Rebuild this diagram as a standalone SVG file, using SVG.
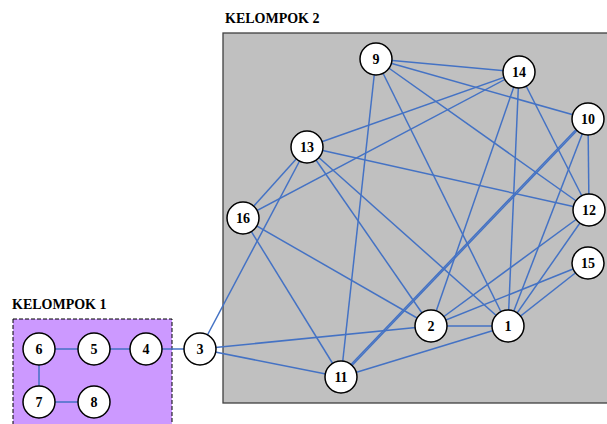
<svg xmlns="http://www.w3.org/2000/svg" width="607" height="424" viewBox="0 0 607 424">
<style>
.e{stroke:#4472c4;stroke-width:1.5;fill:none}
.n circle{fill:#fff;stroke:#000;stroke-width:1.5}
.n text{font-family:"Liberation Serif",serif;font-weight:bold;font-size:14px;text-anchor:middle;fill:#000}
.lbl{font-family:"Liberation Serif",serif;font-weight:bold;font-size:14px;fill:#000}
</style>
<rect width="607" height="424" fill="#fff"/>
<g id="kelompok2">
<rect x="223" y="33" width="390" height="370" fill="#c0c0c0" stroke="#404040" stroke-width="1.3"/>
<text class="lbl" x="225" y="23">KELOMPOK 2</text>
</g>
<g id="kelompok1">
<rect x="13" y="319" width="159" height="110" fill="#cc99ff" stroke="#000" stroke-width="1" stroke-dasharray="4,2"/>
<text class="lbl" x="12" y="309">KELOMPOK 1</text>
</g>
<g id="connectors">
<line class="e" x1="39" y1="349" x2="94" y2="349"/>
<line class="e" x1="94" y1="349" x2="146" y2="349"/>
<line class="e" x1="146" y1="349" x2="200" y2="349"/>
<line class="e" x1="39" y1="349" x2="39" y2="402"/>
<line class="e" x1="39" y1="402" x2="94" y2="402"/>
<line class="e" x1="376" y1="59" x2="519" y2="72"/>
<line class="e" x1="376" y1="59" x2="588" y2="119"/>
<line class="e" x1="376" y1="59" x2="589" y2="210"/>
<line class="e" x1="376" y1="59" x2="508" y2="326"/>
<line class="e" x1="376" y1="59" x2="341" y2="377"/>
<line class="e" x1="519" y1="72" x2="307" y2="147"/>
<line class="e" x1="519" y1="72" x2="243" y2="218"/>
<line class="e" x1="519" y1="72" x2="431" y2="326"/>
<line class="e" x1="519" y1="72" x2="508" y2="326"/>
<line class="e" x1="519" y1="72" x2="589" y2="210"/>
<line class="e" x1="588" y1="119" x2="589" y2="210"/>
<line class="e" x1="588" y1="119" x2="341" y2="377"/>
<line class="e" x1="587" y1="118" x2="340" y2="376"/>
<line class="e" x1="588" y1="119" x2="508" y2="326"/>
<line class="e" x1="307" y1="147" x2="589" y2="210"/>
<line class="e" x1="307" y1="147" x2="243" y2="218"/>
<line class="e" x1="307" y1="147" x2="200" y2="349"/>
<line class="e" x1="307" y1="147" x2="431" y2="326"/>
<line class="e" x1="307" y1="147" x2="508" y2="326"/>
<line class="e" x1="243" y1="218" x2="431" y2="326"/>
<line class="e" x1="243" y1="218" x2="341" y2="377"/>
<line class="e" x1="200" y1="349" x2="431" y2="326"/>
<line class="e" x1="200" y1="349" x2="341" y2="377"/>
<line class="e" x1="341" y1="377" x2="508" y2="326"/>
<line class="e" x1="431" y1="326" x2="508" y2="326"/>
<line class="e" x1="431" y1="326" x2="589" y2="210"/>
<line class="e" x1="431" y1="326" x2="588" y2="263"/>
<line class="e" x1="508" y1="326" x2="589" y2="210"/>
<line class="e" x1="508" y1="326" x2="588" y2="263"/>
</g>
<g id="n9" class="n"><circle cx="376" cy="59" r="16"/><text x="376" y="64">9</text></g>
<g id="n14" class="n"><circle cx="519" cy="72" r="16"/><text x="519" y="77">14</text></g>
<g id="n10" class="n"><circle cx="588" cy="119" r="16"/><text x="588" y="124">10</text></g>
<g id="n13" class="n"><circle cx="307" cy="147" r="16"/><text x="307" y="152">13</text></g>
<g id="n12" class="n"><circle cx="589" cy="210" r="16"/><text x="589" y="215">12</text></g>
<g id="n16" class="n"><circle cx="243" cy="218" r="16"/><text x="243" y="223">16</text></g>
<g id="n15" class="n"><circle cx="588" cy="263" r="16"/><text x="588" y="268">15</text></g>
<g id="n2" class="n"><circle cx="431" cy="326" r="16"/><text x="431" y="331">2</text></g>
<g id="n1" class="n"><circle cx="508" cy="326" r="16"/><text x="508" y="331">1</text></g>
<g id="n11" class="n"><circle cx="341" cy="377" r="16"/><text x="341" y="382">11</text></g>
<g id="n3" class="n"><circle cx="200" cy="349" r="16"/><text x="200" y="354">3</text></g>
<g id="n4" class="n"><circle cx="146" cy="349" r="16"/><text x="146" y="354">4</text></g>
<g id="n5" class="n"><circle cx="94" cy="349" r="16"/><text x="94" y="354">5</text></g>
<g id="n6" class="n"><circle cx="39" cy="349" r="16"/><text x="39" y="354">6</text></g>
<g id="n7" class="n"><circle cx="39" cy="402" r="16"/><text x="39" y="407">7</text></g>
<g id="n8" class="n"><circle cx="94" cy="402" r="16"/><text x="94" y="407">8</text></g>
</svg>
